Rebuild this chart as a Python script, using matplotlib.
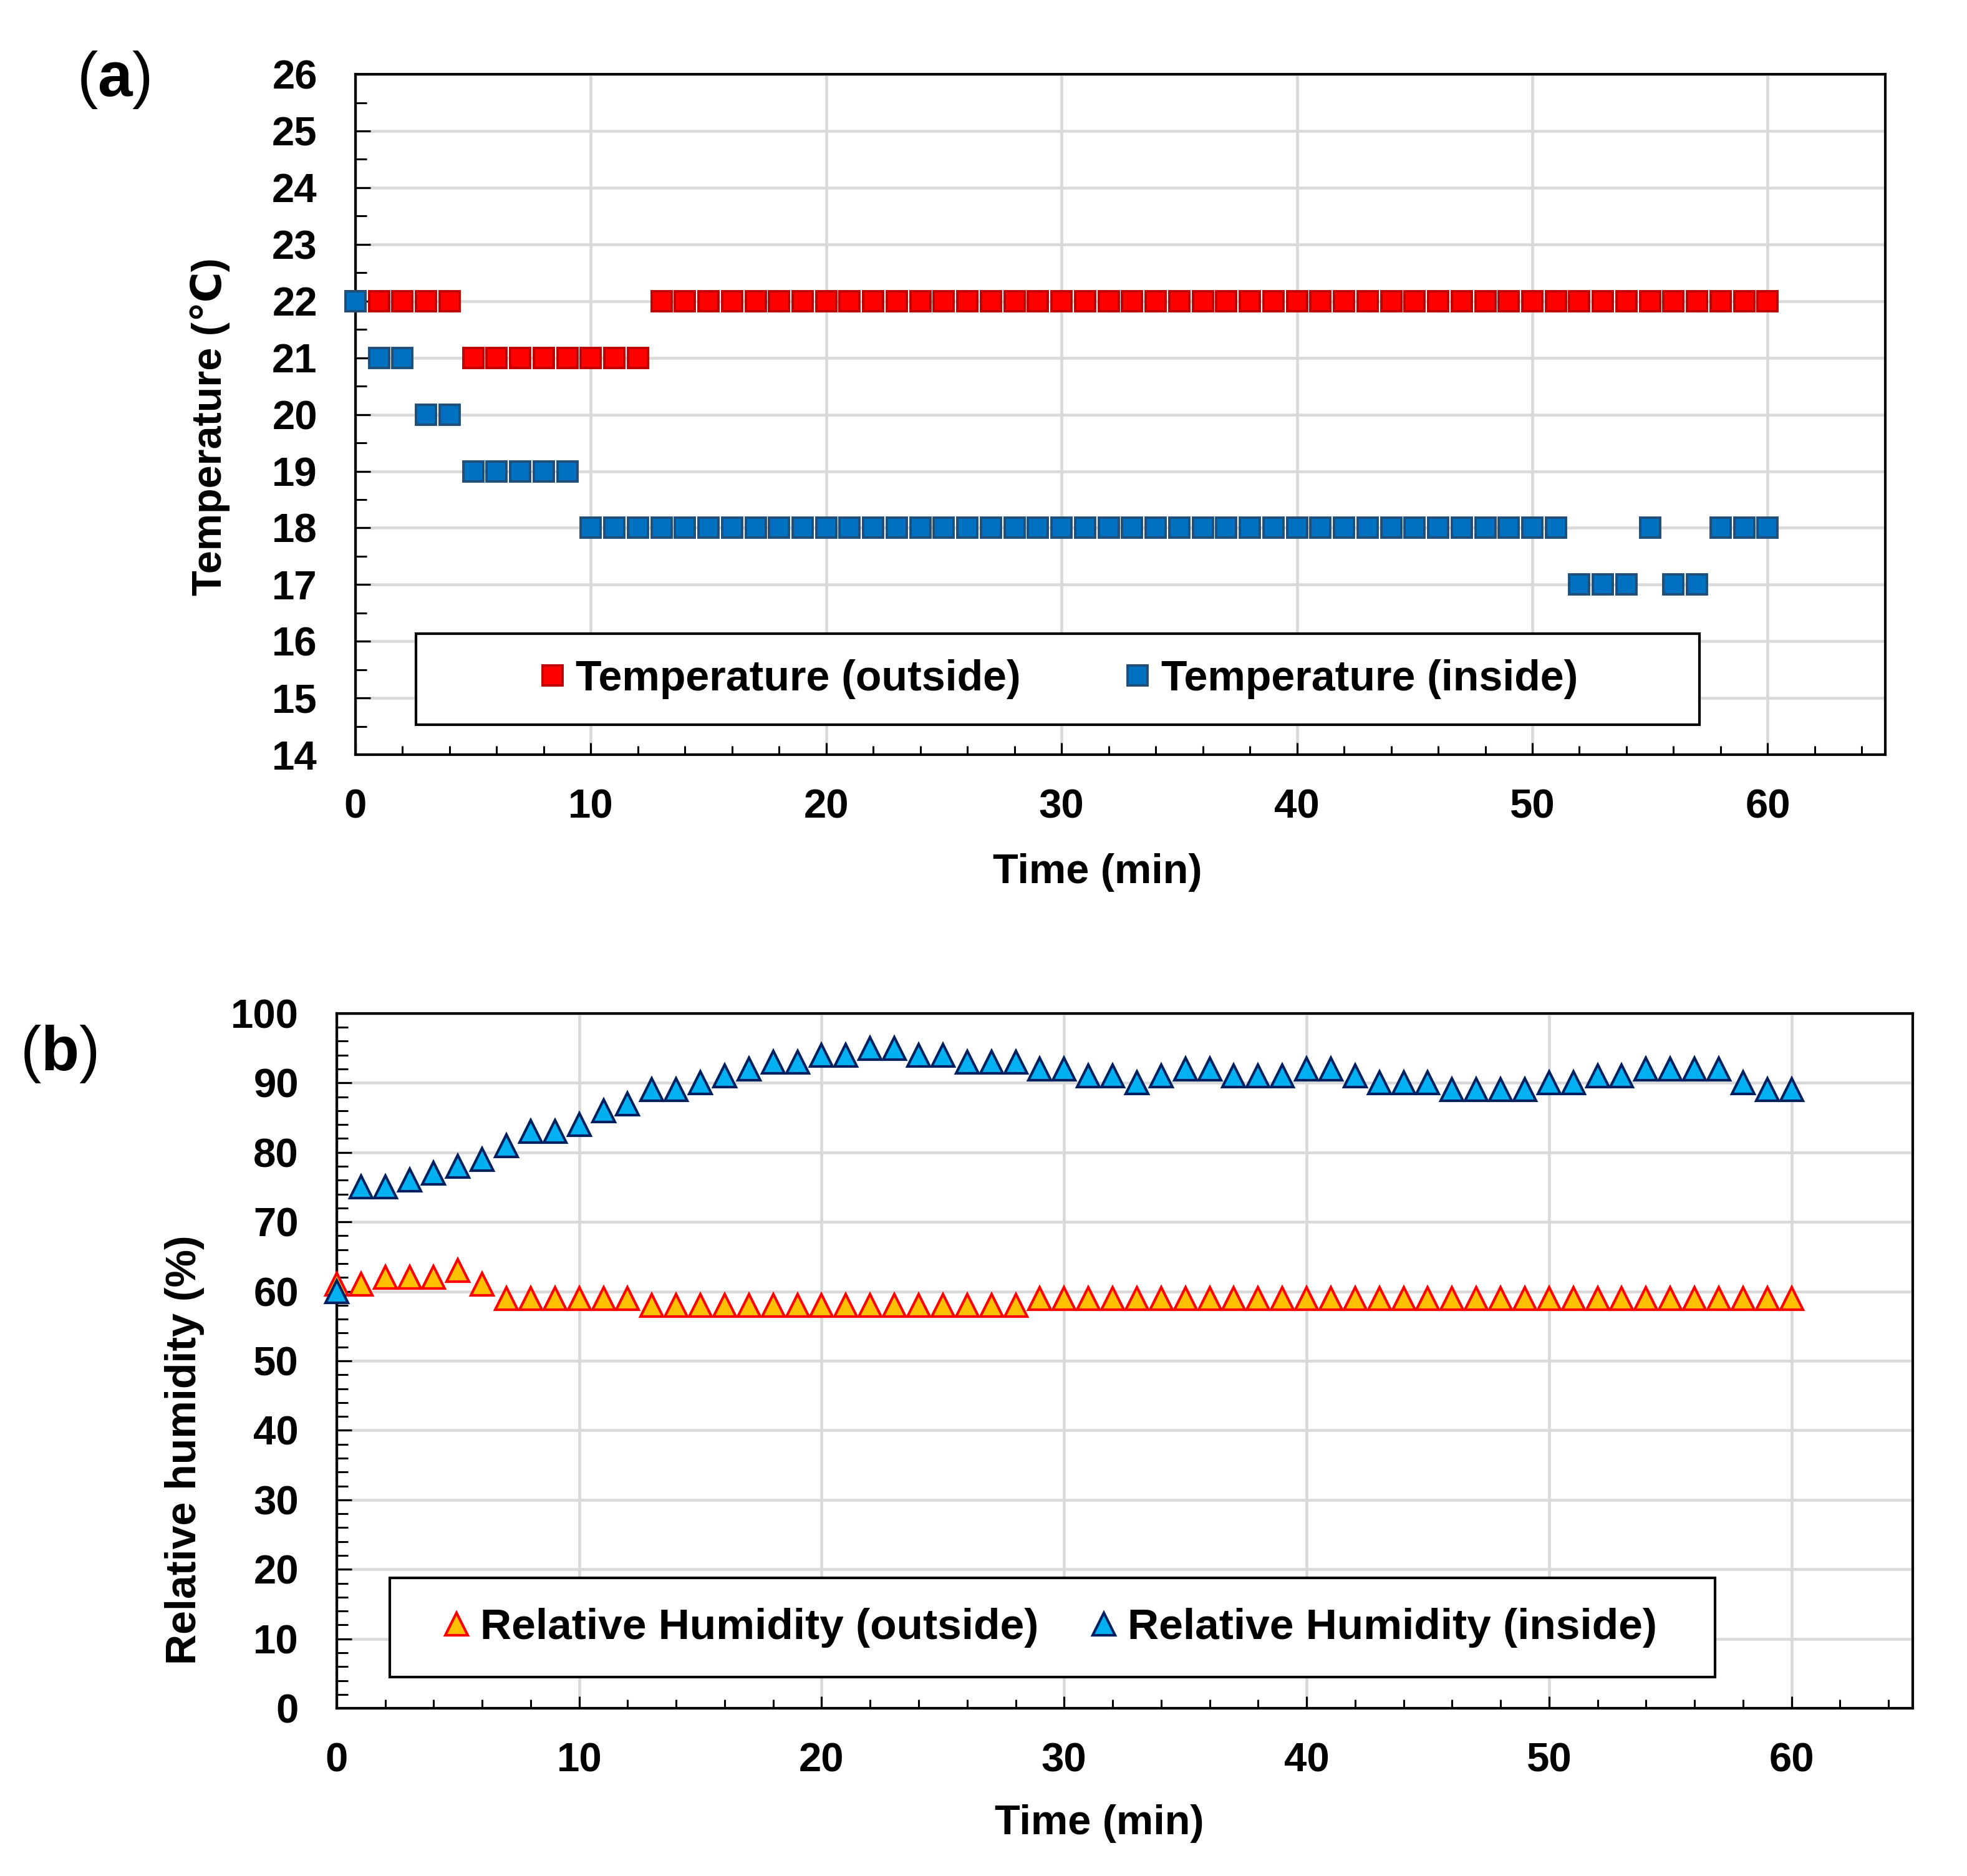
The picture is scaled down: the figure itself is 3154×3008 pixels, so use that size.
import matplotlib
matplotlib.use("Agg")
import matplotlib.pyplot as plt
from matplotlib.patches import Rectangle
from matplotlib.ticker import MultipleLocator

plt.rcParams['font.family'] = ['Liberation Sans', 'DejaVu Sans']
plt.rcParams['font.weight'] = 'bold'
plt.rcParams['axes.labelweight'] = 'bold'
plt.rcParams['mathtext.fontset'] = 'custom'
plt.rcParams['mathtext.rm'] = 'Liberation Sans'
plt.rcParams['mathtext.bf'] = 'Liberation Sans:bold'

# data (one reading per minute)
time_min = [0, 1, 2, 3, 4, 5, 6, 7, 8, 9, 10, 11, 12, 13, 14, 15, 16, 17, 18, 19, 20,
            21, 22, 23, 24, 25, 26, 27, 28, 29, 30, 31, 32, 33, 34, 35, 36, 37, 38, 39, 40,
            41, 42, 43, 44, 45, 46, 47, 48, 49, 50, 51, 52, 53, 54, 55, 56, 57, 58, 59, 60]

temp_outside = [22, 22, 22, 22, 22, 21, 21, 21, 21, 21, 21, 21, 21, 22, 22, 22, 22, 22, 22, 22, 22,
                22, 22, 22, 22, 22, 22, 22, 22, 22, 22, 22, 22, 22, 22, 22, 22, 22, 22, 22, 22,
                22, 22, 22, 22, 22, 22, 22, 22, 22, 22, 22, 22, 22, 22, 22, 22, 22, 22, 22, 22]
temp_inside = [22, 21, 21, 20, 20, 19, 19, 19, 19, 19, 18, 18, 18, 18, 18, 18, 18, 18, 18, 18, 18,
               18, 18, 18, 18, 18, 18, 18, 18, 18, 18, 18, 18, 18, 18, 18, 18, 18, 18, 18, 18,
               18, 18, 18, 18, 18, 18, 18, 18, 18, 18, 18, 17, 17, 17, 18, 17, 17, 18, 18, 18]

rh_outside = [61, 61, 62, 62, 62, 63, 61, 59, 59, 59, 59, 59, 59, 58, 58, 58, 58, 58, 58, 58, 58,
              58, 58, 58, 58, 58, 58, 58, 58, 59, 59, 59, 59, 59, 59, 59, 59, 59, 59, 59, 59,
              59, 59, 59, 59, 59, 59, 59, 59, 59, 59, 59, 59, 59, 59, 59, 59, 59, 59, 59, 59]
rh_inside = [60, 75, 75, 76, 77, 78, 79, 81, 83, 83, 84, 86, 87, 89, 89, 90, 91, 92, 93, 93, 94,
             94, 95, 95, 94, 94, 93, 93, 93, 92, 92, 91, 91, 90, 91, 92, 92, 91, 91, 91, 92,
             92, 91, 90, 90, 90, 89, 89, 89, 89, 90, 90, 91, 91, 92, 92, 92, 92, 90, 89, 89]

temp_labels = ['Temperature (outside)', 'Temperature (inside)']
rh_labels = ['Relative Humidity (outside)', 'Relative Humidity (inside)']

GRID = '#d9d9d9'


def style_axes(ax, ymin, ymax, ymajor, yminor):
    ax.set_xlim(0, 65)
    ax.set_ylim(ymin, ymax)
    ax.xaxis.set_major_locator(MultipleLocator(10))
    ax.xaxis.set_minor_locator(MultipleLocator(2))
    ax.yaxis.set_major_locator(MultipleLocator(ymajor))
    ax.yaxis.set_minor_locator(MultipleLocator(yminor))
    ax.set_axisbelow(True)
    ax.grid(which='major', color=GRID, lw=3.3)
    for s in ax.spines.values():
        s.set_linewidth(3)
        s.set_color('black')
    ax.tick_params(axis='y', which='major', direction='in', length=17, width=2.2, pad=44, labelsize=47)
    ax.tick_params(axis='y', which='minor', direction='in', length=13, width=2.2)
    ax.tick_params(axis='x', which='major', direction='in', length=14, width=2.2, pad=39, labelsize=47)
    ax.tick_params(axis='x', which='minor', direction='in', length=10, width=2.2)


def legend_box(ax, x0, y0, x1, y1):
    ax.add_patch(Rectangle((x0, y0), x1 - x0, y1 - y0, transform=ax.transAxes,
                           facecolor='white', edgecolor='black', lw=3, zorder=4))


fig = plt.figure(figsize=(31.54, 30.08), dpi=100)

# (a) temperature
ax1 = fig.add_axes([0.1807, 0.5977, 0.7778, 0.3627])
style_axes(ax1, 14, 26, 1, 0.5)
h1, = ax1.plot(time_min, temp_outside, ls='none', marker='s', ms=23, mew=2.8,
               mfc='#ff0000', mec='#c00000', clip_on=False, zorder=3)
h2, = ax1.plot(time_min, temp_inside, ls='none', marker='s', ms=23, mew=2.8,
               mfc='#0070c0', mec='#1f4e79', clip_on=False, zorder=3)
ax1.set_xlabel('Time (min)', fontsize=48, fontweight='bold')
ax1.set_ylabel('Temperature (℃)', fontsize=48, fontweight='bold')
ax1.xaxis.set_label_coords(0.485, -0.145)
ax1.yaxis.set_label_coords(-0.082, 0.482)
legend_box(ax1, 0.0395, 0.044, 0.8785, 0.178)
leg1 = ax1.legend([h1, h2], temp_labels, loc='center', bbox_to_anchor=(0.459, 0.111),
                  ncol=2, frameon=False, handlelength=0.7, handletextpad=0.2,
                  columnspacing=2.4, fontsize=49)
leg1.set_zorder(5)

# (b) relative humidity
ax2 = fig.add_axes([0.1712, 0.0894, 0.8012, 0.3704])
style_axes(ax2, 0, 100, 10, 2)
h3, = ax2.plot(time_min, rh_outside, ls='none', marker='^', ms=26, mew=3,
               mfc='#ffc000', mec='#ff0000', clip_on=False, zorder=3)
h4, = ax2.plot(time_min, rh_inside, ls='none', marker='^', ms=26, mew=3,
               mfc='#00b0f0', mec='#002060', clip_on=False, zorder=3)
ax2.set_xlabel('Time (min)', fontsize=48, fontweight='bold')
ax2.set_ylabel('Relative humidity (%)', fontsize=49, fontweight='bold')
ax2.xaxis.set_label_coords(0.484, -0.138)
ax2.yaxis.set_label_coords(-0.084, 0.372)
legend_box(ax2, 0.0336, 0.0449, 0.8746, 0.1876)
leg2 = ax2.legend([h3, h4], rh_labels, loc='center', bbox_to_anchor=(0.452, 0.116),
                  ncol=2, frameon=False, handlelength=0.7, handletextpad=0.2,
                  columnspacing=1.15, fontsize=50)
leg2.set_zorder(5)

fig.text(0.0577, 0.9574, r'($\mathbf{a}$)', fontsize=72, fontweight='normal', ha='center', va='center')
fig.text(0.0298, 0.4382, r'($\mathbf{b}$)', fontsize=72, fontweight='normal', ha='center', va='center')

fig.savefig('out.png', dpi=100)
